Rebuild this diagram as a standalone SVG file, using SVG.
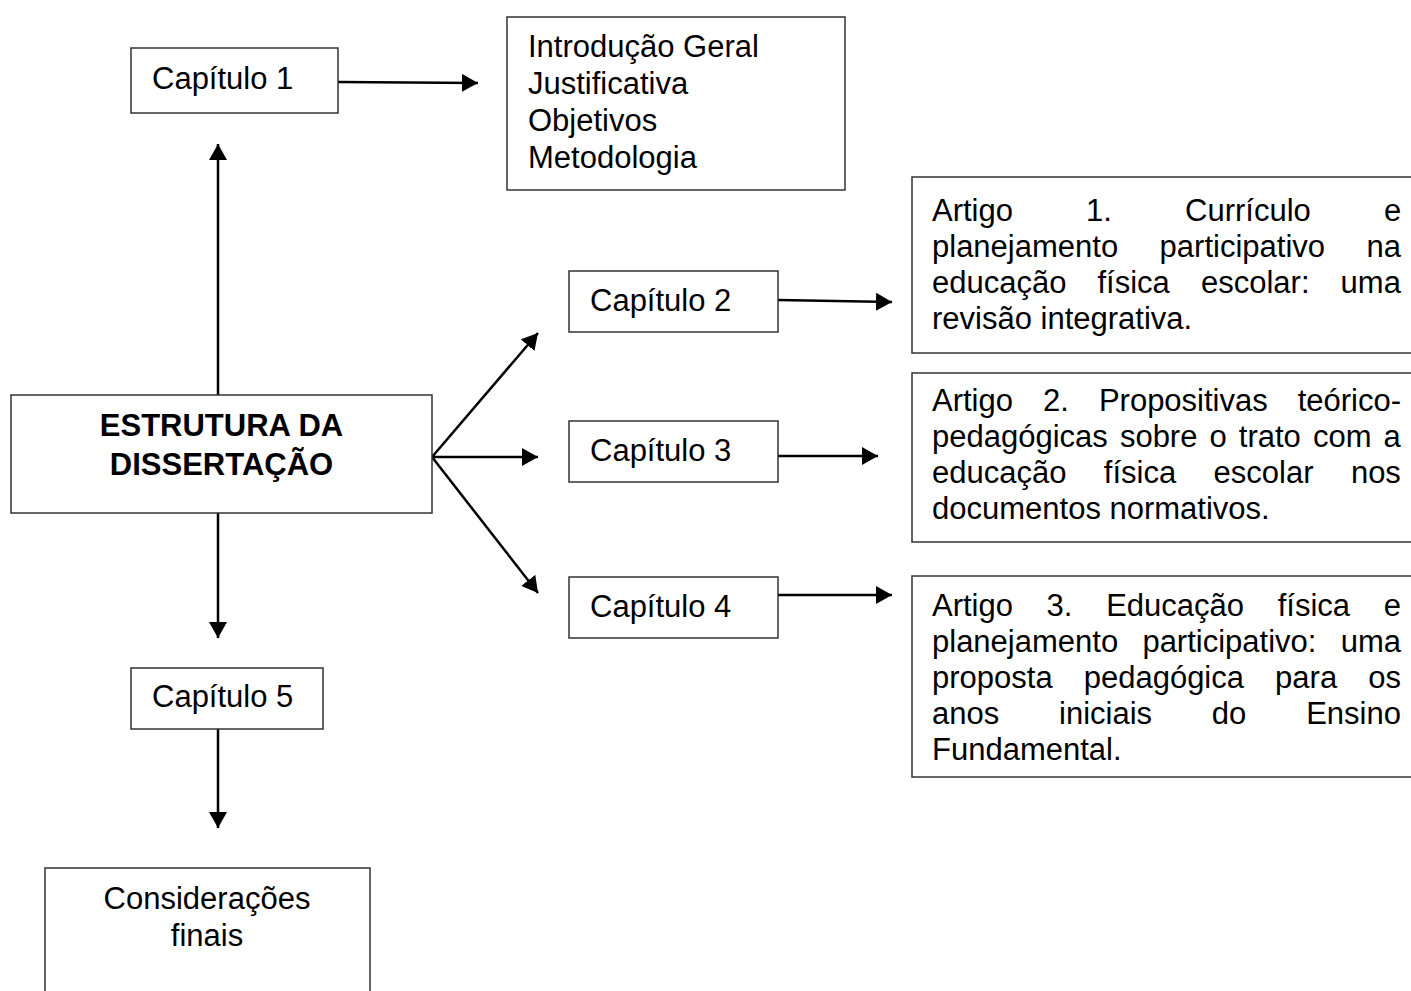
<svg xmlns="http://www.w3.org/2000/svg" width="1411" height="991" viewBox="0 0 1411 991">
<style>
  .box { fill: #fff; stroke: #333; stroke-width: 1.5; }
  .t { font-family: "Liberation Sans", Arial, sans-serif; font-size: 31px; fill: #000; }
  .b { font-weight: bold; }
  .c { text-anchor: middle; }
  .edge { stroke: #000; stroke-width: 2.5; fill: none; marker-end: url(#arrow); }
</style>
<defs>
  <marker id="arrow" markerUnits="userSpaceOnUse" markerWidth="17" markerHeight="18" refX="16" refY="9" orient="auto">
    <path d="M0,0 L16,9 L0,18 z" fill="#000"/>
  </marker>
</defs>
<rect width="1411" height="991" fill="#fff"/>

<g id="connectors">
  <line class="edge" x1="338" y1="82" x2="478" y2="83"/>
  <line class="edge" x1="218" y1="395" x2="218" y2="144"/>
  <line class="edge" x1="432" y1="457" x2="538" y2="333"/>
  <line class="edge" x1="432" y1="457" x2="538" y2="457"/>
  <line class="edge" x1="432" y1="457" x2="538" y2="593"/>
  <line class="edge" x1="778" y1="300" x2="892" y2="302"/>
  <line class="edge" x1="778" y1="456" x2="878" y2="456"/>
  <line class="edge" x1="778" y1="595" x2="892" y2="595"/>
  <line class="edge" x1="218" y1="513" x2="218" y2="638"/>
  <line class="edge" x1="218" y1="729" x2="218" y2="828"/>
</g>

<g id="cap1">
  <rect class="box" x="131" y="48" width="207" height="65"/>
  <text class="t" x="152" y="89">Capítulo 1</text>
</g>

<g id="intro">
  <rect class="box" x="507" y="17" width="338" height="173"/>
  <text class="t" x="528" y="57">Introdução Geral</text>
  <text class="t" x="528" y="94">Justificativa</text>
  <text class="t" x="528" y="131">Objetivos</text>
  <text class="t" x="528" y="168">Metodologia</text>
</g>

<g id="estrutura">
  <rect class="box" x="11" y="395" width="421" height="118"/>
  <text class="t b c" x="221.5" y="436">ESTRUTURA DA</text>
  <text class="t b c" x="221.5" y="475">DISSERTAÇÃO</text>
</g>

<g id="cap2">
  <rect class="box" x="569" y="271" width="209" height="61"/>
  <text class="t" x="590" y="311">Capítulo 2</text>
</g>

<g id="cap3">
  <rect class="box" x="569" y="421" width="209" height="61"/>
  <text class="t" x="590" y="461">Capítulo 3</text>
</g>

<g id="cap4">
  <rect class="box" x="569" y="577" width="209" height="61"/>
  <text class="t" x="590" y="617">Capítulo 4</text>
</g>

<g id="cap5">
  <rect class="box" x="131" y="668" width="192" height="61"/>
  <text class="t" x="152" y="707">Capítulo 5</text>
</g>

<g id="consideracoes">
  <rect class="box" x="45" y="868" width="325" height="140"/>
  <text class="t c" x="207" y="909">Considerações</text>
  <text class="t c" x="207" y="946">finais</text>
</g>

<g id="artigo1">
  <rect class="box" x="912" y="177" width="510" height="176"/>
  <text class="t" y="221"><tspan x="932">Artigo</tspan><tspan x="1086">1.</tspan><tspan x="1185">Currículo</tspan><tspan x="1384">e</tspan></text>
  <text class="t" y="257"><tspan x="932">planejamento</tspan><tspan x="1159.6">participativo</tspan><tspan x="1366.5">na</tspan></text>
  <text class="t" y="293"><tspan x="932">educação</tspan><tspan x="1097.5">física</tspan><tspan x="1201">escolar:</tspan><tspan x="1340.6">uma</tspan></text>
  <text class="t" x="932" y="329">revisão integrativa.</text>
</g>

<g id="artigo2">
  <rect class="box" x="912" y="373" width="510" height="169"/>
  <text class="t" y="411"><tspan x="932">Artigo</tspan><tspan x="1043">2.</tspan><tspan x="1098.9">Propositivas</tspan><tspan x="1297.7">teórico-</tspan></text>
  <text class="t" y="447"><tspan x="932">pedagógicas</tspan><tspan x="1119.9">sobre</tspan><tspan x="1209.5">o</tspan><tspan x="1238.8">trato</tspan><tspan x="1312.9">com</tspan><tspan x="1383.6">a</tspan></text>
  <text class="t" y="483"><tspan x="932">educação</tspan><tspan x="1103.8">física</tspan><tspan x="1213.6">escolar</tspan><tspan x="1350.9">nos</tspan></text>
  <text class="t" x="932" y="519">documentos normativos.</text>
</g>

<g id="artigo3">
  <rect class="box" x="912" y="576" width="510" height="201"/>
  <text class="t" y="616"><tspan x="932">Artigo</tspan><tspan x="1046.6">3.</tspan><tspan x="1106.2">Educação</tspan><tspan x="1277.7">física</tspan><tspan x="1383.8">e</tspan></text>
  <text class="t" y="652"><tspan x="932">planejamento</tspan><tspan x="1142.4">participativo:</tspan><tspan x="1340.7">uma</tspan></text>
  <text class="t" y="688"><tspan x="932">proposta</tspan><tspan x="1083.7">pedagógica</tspan><tspan x="1275.1">para</tspan><tspan x="1368.3">os</tspan></text>
  <text class="t" y="724"><tspan x="932">anos</tspan><tspan x="1059">iniciais</tspan><tspan x="1211.8">do</tspan><tspan x="1306.2">Ensino</tspan></text>
  <text class="t" x="932" y="760">Fundamental.</text>
</g>
</svg>
